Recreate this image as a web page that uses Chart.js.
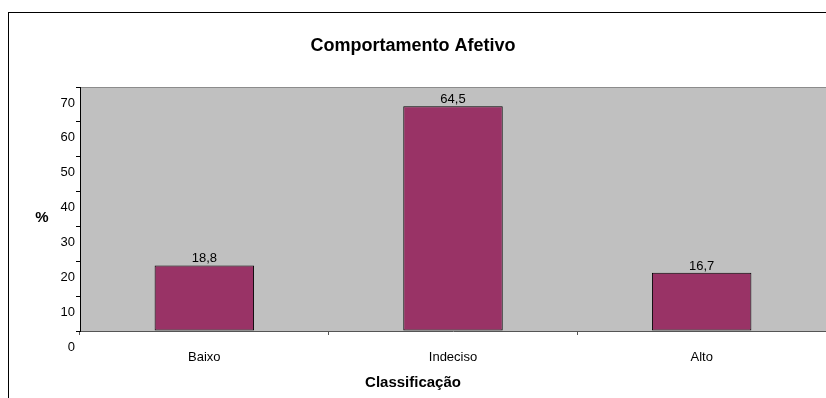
<!DOCTYPE html>
<html>
<head>
<meta charset="utf-8">
<script src="https://cdn.jsdelivr.net/npm/chart.js@4.4.0/dist/chart.umd.min.js"></script>
<style>
  html, body { margin: 0; padding: 0; background: #fff; }
  canvas { display: block; }
</style>
</head>
<body>
<canvas id="chart" width="826" height="398"></canvas>
<script>
// chart data
const categories = ["Baixo", "Indeciso", "Alto"];
const percentages = [18.8, 64.5, 16.7];
const yTicks = [0, 10, 20, 30, 40, 50, 60, 70];
const chartTitle = "Comportamento Afetivo";
const xTitle = "Classificação";
const yTitle = "%";

const FONT = "'Liberation Sans', Arial, sans-serif";
Chart.defaults.font.family = FONT;
Chart.defaults.color = "#000";

// white page, cut-off frame, grey plot area
const framePlugin = {
  id: "frame",
  beforeDraw(chart) {
    const { ctx, chartArea: a } = chart;
    ctx.save();
    ctx.fillStyle = "#fff";
    ctx.fillRect(0, 0, chart.width, chart.height);
    ctx.strokeStyle = "#000";
    ctx.lineWidth = 1;
    ctx.strokeRect(8.5, 12.5, chart.width + 20, chart.height + 20);
    ctx.fillStyle = "#c0c0c0";
    ctx.fillRect(a.left, a.top, a.right - a.left, a.bottom - a.top);
    ctx.strokeStyle = "#8c8c8c";
    ctx.beginPath();
    ctx.moveTo(a.left, a.top + 0.5);
    ctx.lineTo(a.right, a.top + 0.5);
    ctx.stroke();
    ctx.restore();
  },
  afterDatasetsDraw(chart) {
    const { ctx } = chart;
    const meta = chart.getDatasetMeta(0);
    ctx.save();
    ctx.font = "13px " + FONT;
    ctx.fillStyle = "#000";
    ctx.textAlign = "center";
    ctx.textBaseline = "alphabetic";
    meta.data.forEach((bar, i) => {
      const txt = percentages[i].toFixed(1).replace(".", ",");
      ctx.fillText(txt, bar.x, bar.y - 3);
    });
    ctx.restore();
  },
  afterDraw(chart) {
    const { ctx, chartArea: a } = chart;
    ctx.save();
    ctx.font = "bold 15px " + FONT;
    ctx.fillStyle = "#000";
    ctx.textAlign = "center";
    ctx.textBaseline = "middle";
    ctx.fillText(yTitle, 42, (a.top + a.bottom) / 2 + 9);
    ctx.restore();
  }
};

new Chart(document.getElementById("chart"), {
  type: "bar",
  data: {
    labels: categories,
    datasets: [{
      data: percentages,
      backgroundColor: "#993366",
      borderColor: "#000",
      borderWidth: 1,
      borderSkipped: false,
      barPercentage: 0.4,
      categoryPercentage: 1
    }]
  },
  options: {
    responsive: false,
    animation: false,
    layout: { padding: 0, autoPadding: false },
    scales: {
      x: {
        afterFit: (s) => { s.height = 40; },
        grid: { offset: true, drawOnChartArea: false, drawTicks: true, tickLength: 4, color: "#555" },
        border: { color: "#555", width: 1 },
        ticks: { font: { size: 13 }, padding: 15, color: "#000" }
      },
      y: {
        min: yTicks[0],
        max: yTicks[yTicks.length - 1],
        afterFit: (s) => { s.width = 80; },
        grid: { drawOnChartArea: false, drawTicks: true, tickLength: 4, color: "#000" },
        border: { color: "#000", width: 1 },
        ticks: { stepSize: yTicks[1] - yTicks[0], font: { size: 13 }, padding: 1, labelOffset: 16, color: "#000" }
      }
    },
    plugins: {
      legend: { display: false },
      tooltip: { enabled: false },
      title: {
        display: true,
        text: chartTitle,
        color: "#000",
        font: { size: 18, weight: "bold" },
        padding: { top: 35, bottom: 30.4 }
      },
      subtitle: {
        display: true,
        text: xTitle,
        position: "bottom",
        color: "#000",
        font: { size: 15, weight: "bold" },
        padding: { top: 3, bottom: 6 }
      }
    }
  },
  plugins: [framePlugin]
});
</script>
</body>
</html>
